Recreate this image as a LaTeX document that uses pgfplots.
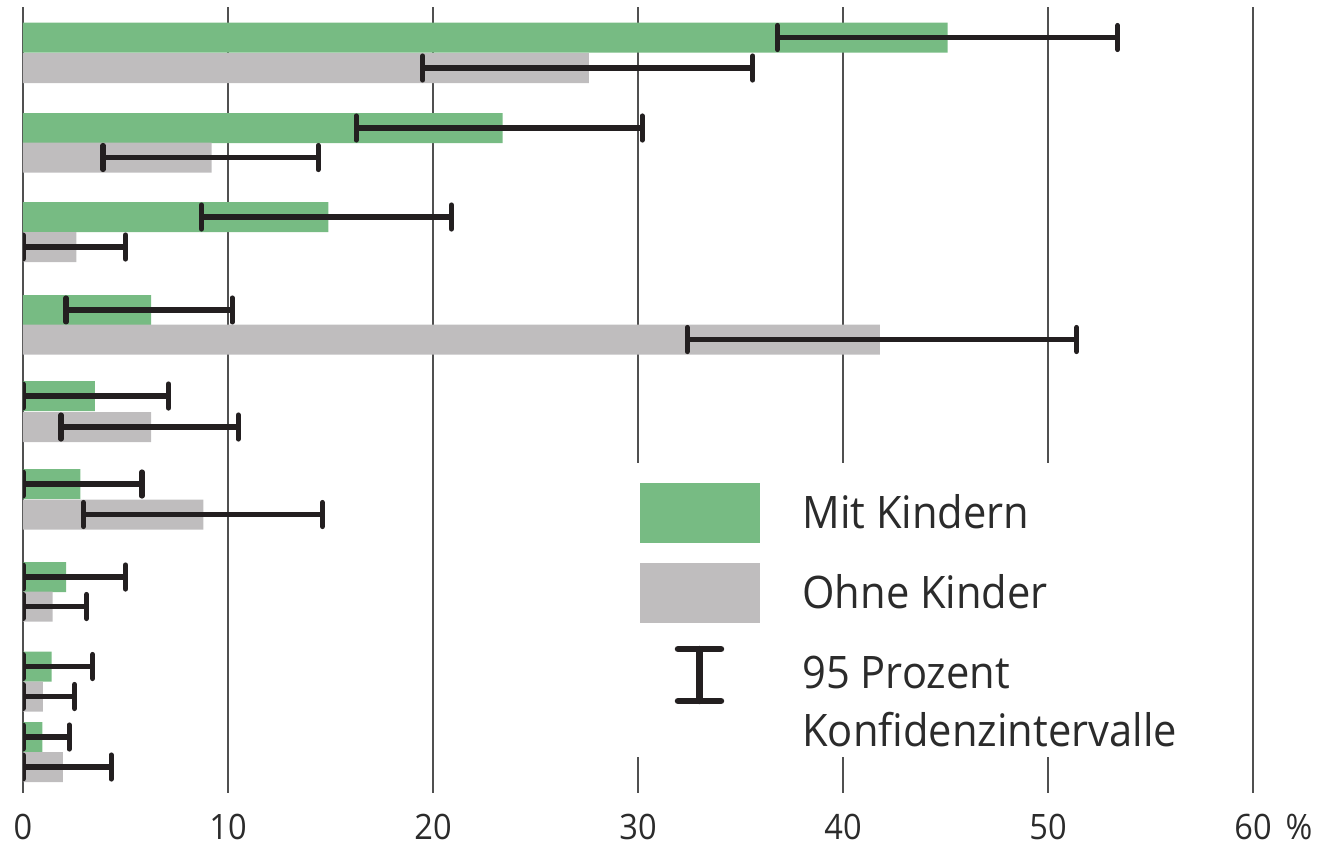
\documentclass[border=0pt]{standalone}
\usepackage{fontspec}
\setmainfont{Open Sans}[FakeStretch=0.93]
\usepackage{pgfplots}
\usepackage{pgfplotstable}
\pgfplotsset{compat=1.18}
\definecolor{gruen}{HTML}{77BB83}
\definecolor{grau}{HTML}{BFBDBE}
\definecolor{fehler}{HTML}{231F20}
\definecolor{gitter}{HTML}{505050}
\definecolor{schrift}{HTML}{2B2B2B}

% x = Anteil in %, y = Balkenmitte (Bildzeile), em/ep = Konfidenzintervall
\pgfplotstableread{
x     y      em    ep
45.1  37.5   8.3   8.3
23.4  128    7.15  6.8
14.9  217    6.2   6.0
6.25  310    4.15  3.95
3.5   396    3.5   3.6
2.8   484    2.8   3.0
2.1   577    2.1   2.9
1.4   666.5  1.4   2.0
0.95  737    0.95  1.3
}\mitkindern

\pgfplotstableread{
x     y      em    ep
27.6  68     8.1   8.0
9.2   157.5  5.3   5.2
2.6   247    2.6   2.4
41.8  339.5  9.4   9.6
6.25  427    4.4   4.25
8.8   514.5  5.85  5.8
1.45  606.5  1.45  1.65
0.97  696.5  0.97  1.55
1.95  767    1.95  2.35
}\ohnekinder

\pgfplotsset{
  ci/.style={
    draw=none, bar shift=0pt,
    error bars/x dir=both, error bars/x explicit,
    error bars/error bar style={fehler, line width=2.6pt},
    error bars/error mark options={fehler, rotate=90, line width=2.6pt, mark size=6pt, line cap=round},
  },
}

\begin{document}
\begin{tikzpicture}
\path[use as bounding box] (-11.5pt,-26.5pt) rectangle (649.5pt,396.5pt);
\begin{axis}[
  at={(0,0)}, anchor=south west,
  scale only axis, width=615pt, height=393pt,
  xmin=0, xmax=60, ymin=7, ymax=793, y dir=reverse,
  axis x line*=bottom, axis y line*=left,
  x axis line style={draw=none}, y axis line style={draw=none},
  xtick={0,10,...,60}, ytick=\empty,
  xticklabels={0,10,20,30,40,50,60\rlap{\hspace{0.4em}\%}},
  xticklabel style={font=\fontsize{17.5}{20}\selectfont, text=schrift, yshift=-7pt},
  tick style={draw=none},
  xmajorgrids, grid style={gitter, line width=1pt},
  xbar, bar width=30,
  /pgf/number format/assume math mode=true,
]
\addplot[ci, fill=gruen] table[x=x, y=y, x error plus=ep, x error minus=em] {\mitkindern};
\addplot[ci, fill=grau] table[x=x, y=y, x error plus=ep, x error minus=em] {\ohnekinder};

% Legende
\fill[white] (axis cs:29.5,463) rectangle (axis cs:59.2,757);
\fill[gruen] (axis cs:30.1,483) rectangle (axis cs:35.95,543);
\fill[grau] (axis cs:30.1,563) rectangle (axis cs:35.95,623);
\draw[fehler, line width=3.2pt, line cap=round]
  (axis cs:33,649) -- (axis cs:33,701)
  (axis cs:31.95,649) -- (axis cs:34.05,649)
  (axis cs:31.95,701) -- (axis cs:34.05,701);
\begin{scope}[every node/.style={anchor=base west, inner sep=0pt, text=schrift, font=\fontsize{22.4}{27}\selectfont}]
\node at (axis cs:38,528) {Mit Kindern};
\node at (axis cs:38,608) {Ohne Kinder};
\node at (axis cs:38,688) {95 Prozent};
\node at (axis cs:38,746) {Konfidenzintervalle};
\end{scope}
\end{axis}
\end{tikzpicture}
\end{document}
